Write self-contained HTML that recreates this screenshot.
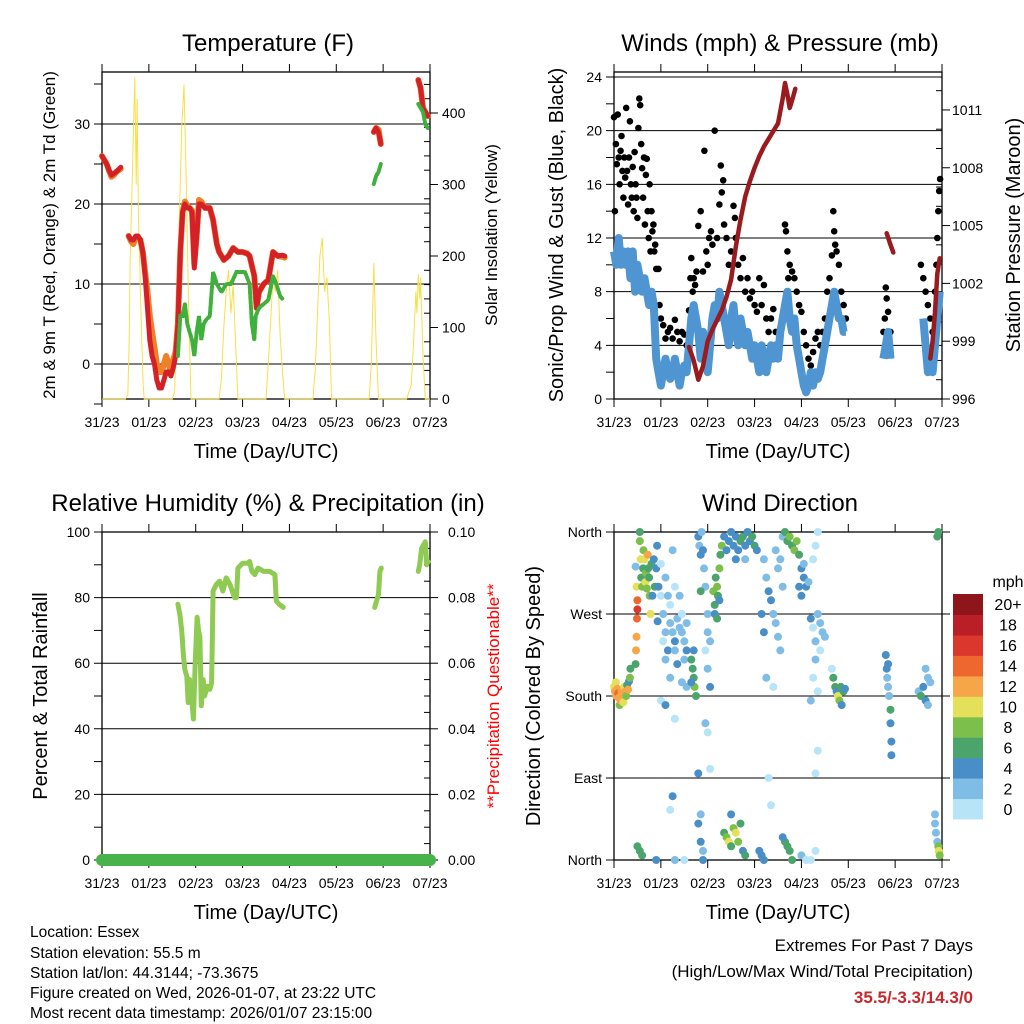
<!DOCTYPE html>
<html><head><meta charset="utf-8"><style>
html,body{margin:0;padding:0;background:#fff;}
svg{display:block;font-family:"Liberation Sans",sans-serif;}
</style></head><body>
<svg id="fig" width="1024" height="1024" viewBox="0 0 1024 1024" xmlns="http://www.w3.org/2000/svg">
<rect width="1024" height="1024" fill="#fff"/>
<g id="p1"></g>
<g id="p2"></g>
<g id="p3"></g>
<g id="p4"></g>
<g font-size="15.5" fill="#000">
<text x="30" y="937">Location: Essex</text>
<text x="30" y="958">Station elevation: 55.5 m</text>
<text x="30" y="978">Station lat/lon: 44.3144; -73.3675</text>
<text x="30" y="998">Figure created on Wed, 2026-01-07, at 23:22 UTC</text>
<text x="30" y="1018">Most recent data timestamp: 2026/01/07 23:15:00</text>
</g>
<g text-anchor="end">
<text x="973" y="951" font-size="17">Extremes For Past 7 Days</text>
<text x="973" y="977" font-size="17">(High/Low/Max Wind/Total Precipitation)</text>
<text x="973" y="1003" font-size="17" font-weight="bold" fill="#c8282d">35.5/-3.3/14.3/0</text>
</g>
</svg>
<script>
// ---------- DATA ----------
const dayLabels = ["31/23","01/23","02/23","03/23","04/23","05/23","06/23","07/23"];
// Temperature (day offsets, F); null = gap
const tempT = [0,0.05,0.1,0.15,0.2,0.25,0.3,0.35,0.4,null,0.57,0.62,0.67,0.72,0.77,0.82,0.87,0.92,0.97,1.02,1.07,1.12,1.17,1.22,1.27,1.32,1.37,1.42,1.47,1.52,1.57,1.62,1.67,1.72,1.77,1.82,1.87,1.92,1.97,2.02,2.07,2.12,2.2,2.3,2.37,2.45,2.5,2.6,2.7,2.8,2.9,3.0,3.1,3.15,3.25,3.3,3.35,3.45,3.55,3.65,3.75,3.85,3.9,null,5.8,5.85,5.9,5.95,null,6.75,6.8,6.85,6.9,6.95];
const tempRed = [26,25.5,25,24.2,23.6,23.8,24,24.3,24.6,null,16,15.5,15.5,16,16,15.5,14,11,7,3,1,0,-2,-3,-3,-2,-1,-1,-1.5,-0.5,1,5,14,19,20,19.5,19.5,19,12,16,20,20,19.5,19.5,18,15,14,13,13.5,14.5,14,14,13.8,13.5,11,7,9,10,10.5,14,13.5,13.6,13.5,null,29,29.5,29,27.5,null,35.5,34.5,32,31.5,31];
const tempOrange = [26,25.5,25,24.2,23.4,23.6,24,24.2,24.4,null,16,15.3,15,15.8,15.8,15.5,14,11.5,9,6,4,2,0,-1,-1,0,1,0,-1,0.5,1.5,5,14,19,20.3,19.8,19.5,19.2,12.5,16,20.5,20.3,19.5,19.5,18,15,14,13,13.5,14.5,14,14,13.8,13.5,11,7,9,10,10.5,14,13.5,13.4,13.3,null,29,29.5,29.3,27.5,null,35.5,34.5,32,31.5,31];
const dewT = [1.62,1.67,1.72,1.77,1.82,1.87,1.92,1.97,2.02,2.07,2.12,2.17,2.22,2.3,2.37,2.45,2.55,2.65,2.75,2.87,2.95,3.05,3.15,3.2,3.25,3.28,3.35,3.45,3.55,3.65,3.72,3.8,3.87,null,5.8,5.85,5.9,5.95,null,6.75,6.8,6.85,6.9,6.95];
const dewV = [1,6,6,7.5,5,4,3,1,4,6,3,5,5.5,6,11.5,10,9,10,10,11.5,11.5,11.5,10,5,3,6,7,7.5,8,11,10,8.5,8,null,22.5,23.5,24,25,null,32.5,32,31.5,30,29.5];
const solarT = [0,0.5,0.55,0.58,0.6,0.65,0.68,0.7,0.73,0.75,0.78,0.8,0.85,0.88,0.9,0.95,1.5,1.55,1.6,1.65,1.7,1.75,1.8,1.85,1.9,2.5,2.55,2.6,2.65,2.7,2.75,2.8,2.85,2.9,3.5,3.55,3.6,3.65,3.7,3.75,3.8,3.85,3.9,4.5,4.55,4.6,4.65,4.7,4.75,4.8,4.85,4.9,5.5,5.7,5.75,5.8,5.85,5.9,6.5,6.6,6.65,6.7,6.72,6.75,6.78,6.8,6.85,6.9,7];
const solarV = [0,0,5,80,190,320,400,450,300,420,250,200,80,20,0,0,0,10,120,250,380,440,300,120,0,0,30,100,150,180,120,160,80,0,0,50,110,170,150,180,90,40,0,0,40,120,200,225,150,170,110,0,0,0,50,190,80,0,0,20,80,150,120,175,140,170,60,0,0];
// Winds (mph)
const windT = [0,0.05,0.1,0.15,0.2,0.25,0.3,0.35,0.4,0.45,0.5,0.55,0.6,0.65,0.7,0.75,0.8,0.85,0.9,0.95,1.0,1.05,1.1,1.15,1.2,1.25,1.3,1.35,1.4,1.45,1.5,1.55,1.6,1.65,1.7,1.75,1.8,1.85,1.9,1.95,2.0,2.05,2.1,2.15,2.2,2.25,2.3,2.35,2.4,2.45,2.5,2.55,2.6,2.65,2.7,2.75,2.8,2.85,2.9,2.95,3.0,3.05,3.1,3.15,3.2,3.25,3.3,3.35,3.4,3.45,3.5,3.55,3.6,3.65,3.7,3.75,3.8,3.85,3.9,3.95,4.0,4.05,4.1,4.15,4.2,4.25,4.3,4.35,4.4,4.45,4.5,4.55,4.6,4.65,4.7,4.75,4.8,4.85,4.9,4.95,null,5.75,5.8,5.85,5.9,null,6.6,6.65,6.7,6.75,6.8,6.85,6.9,6.95];
const windV = [11,10,12,10,11,10,11,9,11,8,10,9,8,9,8,7,8,7,3,2,1,2,3,2,1.5,2,3,2,1,2,2.5,2,4,6,7,6,5,3,5,4,2,4,6,7,6,8,7,6,5,4,6,7,5,4,6,5,4,5,4,3,4,3,2,4,3,2,3,4,3,4,3,5,6,7,8,6,5,6,4,3,2,1,0.5,1,2,1,2,1.5,2,3,4,5,6,7,8,7,6,6,5,5,null,3,4,5,3,null,6,4,2,3,2,4,6,8];
const gustT = [0,0.02,0.04,0.06,0.08,0.1,0.12,0.14,0.16,0.18,0.2,0.22,0.24,0.26,0.28,0.3,0.32,0.34,0.36,0.38,0.4,0.42,0.44,0.46,0.48,0.5,0.52,0.54,0.56,0.58,0.6,0.62,0.64,0.66,0.68,0.7,0.72,0.74,0.76,0.78,0.8,0.82,0.84,0.86,0.88,0.9,0.95,0.97,1.0,1.05,1.1,1.15,1.2,1.25,1.3,1.35,1.4,1.45,1.5,1.55,1.6,1.63,1.65,1.68,1.7,1.73,1.76,1.8,1.85,1.9,1.93,1.97,2.0,2.03,2.07,2.1,2.15,2.2,2.25,2.28,2.3,2.33,2.35,2.4,2.45,2.5,2.55,2.58,2.6,2.65,2.7,2.75,2.8,2.85,2.9,2.95,3.0,3.05,3.1,3.15,3.2,3.25,3.3,3.35,3.4,3.45,3.5,3.55,3.6,3.65,3.67,3.7,3.72,3.75,3.8,3.85,3.9,3.95,4.0,4.05,4.1,4.15,4.2,4.25,4.3,4.35,4.4,4.45,4.5,4.55,4.6,4.65,4.68,4.7,4.72,4.75,4.8,4.85,4.9,4.95,5.75,5.78,5.8,5.82,5.85,5.9,6.55,6.6,6.65,6.7,6.75,6.8,6.85,6.88,6.9,6.92,6.94,6.96];
const gustV = [21,14,19,17.5,21.2,18,16,18.5,19.6,17,15,18,16.5,21.7,17,14.5,18,20.7,16,15,17.3,14,18.4,16,15,13.5,20.2,22.4,21.9,19,17.2,15,18,13,16.7,17.9,14,12,16,11,14,12.5,13,11,11.5,9.7,9.7,7,6,5.5,4.5,5,5.3,4.5,5.9,5,4.3,5,4.8,4,6.6,9,10.5,8,9,8.5,9.5,12.9,14,9.5,18.5,11,10,12,12.5,11.5,20,12,14.5,17.4,15.4,16.3,13,12,10,11,14.4,13.5,12,10,9,10.5,8,9,7.5,8,7,6.5,9,7,8.5,6,5,6,6.7,5,4,5,6,13,12.5,11,9,10,9.5,9,8,7,6.5,5,4,3,2.5,3.5,4.5,5,4,5,6,8,9,10.7,14,12.5,11.5,11,10,8,7,6,5,6,8.3,7.5,6.5,5,10,9,8,7,6,5,8,10,12,14,15.5,16.4];
const presT = [1.6,1.7,1.8,1.9,2.0,2.1,2.2,2.3,2.4,2.5,2.6,2.7,2.8,2.9,3.0,3.1,3.2,3.3,3.4,3.5,3.6,3.65,3.7,3.75,3.8,3.87,null,5.82,5.9,5.96,null,6.75,6.8,6.85,6.9,6.95];
const presV = [998.7,998,997,997.7,999,999.6,1000.1,1000.6,1001.3,1002.2,1003.9,1005.3,1006.5,1007.3,1008,1008.6,1009.1,1009.5,1009.9,1010.3,1011.6,1012.4,1011.8,1011.1,1011.5,1012.1,null,1004.6,1004,1003.6,null,998.1,999,1000.5,1002.5,1003.3];
// Relative humidity (%)
const rhT = [1.62,1.66,1.7,1.74,1.77,1.81,1.84,1.87,1.91,1.95,1.99,2.03,2.06,2.09,2.12,2.16,2.19,2.25,2.3,2.34,2.37,2.44,2.51,2.58,2.65,2.73,2.83,2.87,2.9,3.0,3.1,3.15,3.2,3.26,3.33,3.45,3.58,3.69,3.72,3.78,3.87,null,5.82,5.86,5.9,5.93,5.96,null,6.75,6.78,6.82,6.86,6.9,6.93,6.96];
const rhV = [78,75,70,62,58,56,48,55,50,43,60,74,70,68,47,55,50,53,52,54,82,84,85,82,86,84,80,80,89,90.5,90.5,91,88,87,89,88,88,87,79,78,77,null,77,79,81,88,89,null,88,90,95,96,97,90,91];
const precipT = [0,7];
const precipV = [0,0];
// Wind direction scatter
const dirT = [0,0.02,0.04,0.05,0.07,0.09,0.1,0.12,0.14,0.16,0.18,0.2,0.22,0.24,0.26,0.28,0.3,0.32,0.34,0.35,0.46,0.47,0.48,0.49,0.5,0.5,0.48,0.46,0.55,0.55,0.57,0.58,0.6,0.62,0.63,0.65,0.67,0.68,0.7,0.72,0.73,0.75,0.76,0.78,0.8,0.82,0.85,0.87,0.9,0.92,0.95,0.93,1.0,1.0,1.05,1.1,1.1,1.15,1.2,1.2,1.25,1.3,1.3,1.35,1.4,1.45,1.45,1.5,1.5,1.55,1.55,1.0,1.1,1.2,1.3,1.3,1.25,1.4,1.1,1.05,1.15,1.35,1.45,1.55,1.2,1.25,1.65,1.68,1.7,1.72,1.75,1.7,1.65,1.8,1.82,1.85,1.87,1.9,1.92,1.95,2.0,2.05,1.95,2.0,2.05,1.85,1.8,1.85,1.8,1.85,1.9,1.9,2.0,2.05,1.95,2.0,2.12,2.15,2.17,2.2,2.22,2.25,2.27,2.3,2.15,2.2,2.25,2.35,2.4,2.45,2.5,2.55,2.6,2.65,2.7,2.75,2.8,2.85,2.9,2.95,3.0,3.05,2.8,2.6,3.2,3.25,3.3,3.35,3.4,3.45,3.5,3.55,3.6,3.25,3.3,3.35,3.4,3.5,3.45,3.55,3.15,3.2,3.6,3.65,3.7,3.75,3.8,3.85,3.9,3.95,4.0,4.05,4.1,4.05,3.95,4.0,4.2,4.25,4.3,4.35,4.4,4.45,4.5,4.3,4.25,4.35,4.2,4.3,4.35,4.4,4.15,4.25,4.3,4.35,4.65,4.68,4.72,4.75,4.78,4.81,4.84,4.86,4.9,4.93,5.8,5.82,5.83,5.85,5.87,5.9,5.9,5.92,5.92,5.85,6.5,6.55,6.6,6.65,6.7,6.75,6.7,6.65,6.85,6.85,6.87,6.9,6.92,6.93,6.95,6.92,6.9,0.5,0.55,0.6,2.35,2.4,2.45,2.5,2.55,2.6,2.65,2.7,2.75,2.5,2.8,3.1,3.15,3.2,3.65,3.7,3.75,3.8,3.6,4.0,4.1,4.2,4.3,0.9,1.3,1.5];
const dirD = [190,185,195,180,188,183,178,170,175,185,180,173,190,185,180,192,187,196,200,210,215,230,245,265,275,285,300,322,350,360,330,310,300,320,340,330,305,315,298,335,320,310,290,270,325,290,330,300,320,345,300,262,325,290,270,250,220,230,260,280,250,240,230,265,255,250,270,240,220,260,230,175,170,200,155,300,340,290,310,240,290,215,195,190,55,70,220,210,200,190,180,230,195,355,345,335,360,340,320,300,250,240,230,210,190,295,95,50,40,20,10,0,140,100,150,270,295,280,310,300,290,320,335,345,270,265,285,355,340,350,360,345,355,340,350,355,345,360,350,355,345,340,330,330,330,310,295,285,270,260,245,230,300,200,90,60,190,320,340,330,270,250,355,360,350,355,345,340,350,335,320,310,300,325,300,290,265,255,240,270,260,250,245,220,200,185,175,95,120,230,305,330,345,360,210,200,190,185,180,175,190,170,185,188,225,210,200,190,180,165,150,130,115,215,185,180,190,175,200,195,170,210,50,40,30,20,15,10,5,360,355,15,10,5,30,25,20,15,35,30,20,40,10,50,5,10,5,0,20,15,10,0,25,5,0,0,10,0,0,0];
const dirS = [11,12,10,13,12,15,12,8,12,12,13,10,11,12,8,7,12,5,8,6,6,13,12,14,16,15,10,3,8,6,10,7,9,6,8,11,10,9,8,12,7,6,9,10,6,4,5,7,4,4,4,4,0,1,2,3,2,4,3,1,2,4,2,3,2,3,1,3,2,3,4,0,4,2,0,1,3,2,3,1,2,4,2,2,0,4,6,7,6,8,6,4,5,4,3,4,2,4,3,2,2,3,1,2,4,6,4,2,4,4,2,4,1,0,3,2,8,6,7,8,6,8,6,8,4,6,4,4,4,4,4,4,4,4,6,6,5,4,4,7,6,4,3,4,3,2,4,4,3,3,2,3,3,3,0,0,1,3,2,3,4,4,3,6,7,8,6,8,9,6,4,4,4,3,4,4,4,1,2,2,3,2,2,3,0,1,3,0,1,0,2,0,1,0,0,6,6,5,10,8,6,4,6,4,4,4,3,2,3,6,4,4,4,4,2,6,4,4,2,2,3,2,2,2,2,2,8,10,8,6,6,6,6,6,6,8,10,6,8,10,8,6,4,4,6,4,4,4,6,6,6,6,4,2,0,0,0,4,2,0];
const speedBins = ["0","2","4","6","8","10","12","14","16","18","20+"];
const binColors = ["#b8e4f8","#80bde6","#4a8ec7","#4ba46c","#7cc04b","#e5e05a","#f6a648","#ee672f","#dc372d","#ba1e26","#8e161a"];

// ---------- HELPERS ----------
const NS = "http://www.w3.org/2000/svg";
function mk(tag, attrs, parent){const e=document.createElementNS(NS,tag);for(const k in attrs)e.setAttribute(k,attrs[k]);if(parent)parent.appendChild(e);return e;}
function txt(parent,x,y,s,size,anchor,extra){const e=mk("text",Object.assign({x:x,y:y,"font-size":size,"text-anchor":anchor||"middle"},extra||{}),parent);e.textContent=s;return e;}
const X0=102,X1=430;
function frame(g,ox,top,bot,title,xTitle){
  const x0=X0+ox,x1=X1+ox;
  const t=txt(g,(x0+x1)/2+2,top-21,title,24);
  
  
  mk("rect",{x:x0,y:top,width:x1-x0,height:bot-top,fill:"none",stroke:"#000","stroke-width":1.3},g);
  const xs=(d)=>x0+d*(x1-x0)/7;
  for(let i=0;i<8;i++){
    const x=xs(i);
    mk("line",{x1:x,x2:x,y1:top-8,y2:top,stroke:"#000","stroke-width":1},g);
    mk("line",{x1:x,x2:x,y1:bot,y2:bot+8,stroke:"#000","stroke-width":1},g);
    const l=txt(g,x,bot+28,dayLabels[i],14);
    
    
  }
  const xt=txt(g,(x0+x1)/2,bot+59,xTitle,20);
  
  
  return xs;
}
function leftTicks(g,ox,vals,ys,labels){
  const x0=X0+ox,x1=X1+ox;
  vals.forEach((v,i)=>{const y=ys(v);
    mk("line",{x1:x0-8,x2:x1,y1:y,y2:y,stroke:"#000","stroke-width":1},g);
    const l=txt(g,x0-12,y+5,labels[i],14,"end");
    
    
  });
}
function pathFrom(T,V,xs,ys){let d="",pen=false;for(let i=0;i<T.length;i++){if(T[i]===null||V[i]===null){pen=false;continue;}d+=(pen?"L":"M")+xs(T[i]).toFixed(1)+","+ys(V[i]).toFixed(1);pen=true;}return d;}

// ---------- PANEL 1: TEMPERATURE ----------
(function(){
  const g=document.getElementById("p1"),top=72,bot=399;
  const xs=frame(g,0,top,bot,"Temperature (F)","Time (Day/UTC)");
  const ys=v=>364-v*8;
  const ys2=v=>399-v*0.7150;
  leftTicks(g,0,[0,10,20,30],ys,["0","10","20","30"]);
  for(let v=-5;v<=35;v+=5){if(v%10)mk("line",{x1:94,x2:102,y1:ys(v),y2:ys(v),stroke:"#000"},g);}
  [0,100,200,300,400].forEach(v=>{mk("line",{x1:430,x2:438,y1:ys2(v),y2:ys2(v),stroke:"#000"},g);const l=txt(g,442,ys2(v)+5,String(v),14,"start");});
  for(let v=20;v<460;v+=20){if(v%100)mk("line",{x1:424,x2:430,y1:ys2(v),y2:ys2(v),stroke:"#000"},g);}
  const s=mk("path",{d:pathFrom(solarT,solarV,xs,ys2),fill:"none",stroke:"#f7df4a","stroke-width":1},g);
  
  const o=mk("path",{d:pathFrom(tempT,tempOrange,xs,ys),fill:"none",stroke:"#f08028","stroke-width":6,"stroke-linecap":"round","stroke-linejoin":"round"},g);
  
  const r=mk("path",{d:pathFrom(tempT,tempRed,xs,ys),fill:"none",stroke:"#d42027","stroke-width":5,"stroke-linecap":"round","stroke-linejoin":"round"},g);
  
  const d=mk("path",{d:pathFrom(dewT,dewV,xs,ys),fill:"none",stroke:"#3fb03c","stroke-width":4,"stroke-dasharray":"3 2","stroke-linecap":"round"},g);
  
  const yl=txt(g,0,0,"2m & 9m T (Red, Orange) & 2m Td (Green)",17,"middle",{transform:"translate(55,235) rotate(-90)"});
  
  const yr=txt(g,0,0,"Solar Insolation (Yellow)",17,"middle",{transform:"translate(497,235) rotate(-90)"});
  
})();

// ---------- PANEL 2: WINDS & PRESSURE ----------
(function(){
  const g=document.getElementById("p2"),top=72,bot=399,ox=512;
  const xs=frame(g,ox,top,bot,"Winds (mph) & Pressure (mb)","Time (Day/UTC)");
  const ys=v=>399-v*13.417;
  const ys2=v=>399-(v-996)*19.27;
  leftTicks(g,ox,[0,4,8,12,16,20,24],ys,["0","4","8","12","16","20","24"]);
  for(let v=2;v<24;v+=4)mk("line",{x1:606,x2:614,y1:ys(v),y2:ys(v),stroke:"#000"},g);
  [996,999,1002,1005,1008,1011].forEach(v=>{mk("line",{x1:942,x2:950,y1:ys2(v),y2:ys2(v),stroke:"#000"},g);const l=txt(g,952,ys2(v)+5,String(v),14,"start");});
  for(let v=997;v<1013;v++){if((v-996)%3)mk("line",{x1:936,x2:942,y1:ys2(v),y2:ys2(v),stroke:"#000"},g);}
  const gg=mk("g",{},g);
  for(let i=0;i<gustT.length;i++){const c=mk("circle",{cx:xs(gustT[i]).toFixed(1),cy:ys(gustV[i]).toFixed(1),r:3.3,fill:"#000"},gg);}
  const w=mk("path",{d:pathFrom(windT,windV,xs,ys),fill:"none",stroke:"#4f95d2","stroke-width":8,"stroke-linejoin":"round"},g);
  
  const p=mk("path",{d:pathFrom(presT,presV,xs,ys2),fill:"none",stroke:"#9a1b1e","stroke-width":4.5,"stroke-linecap":"round","stroke-linejoin":"round"},g);
  
  const yl=txt(g,0,0,"Sonic/Prop Wind & Gust (Blue, Black)",20,"middle",{transform:"translate(563,235) rotate(-90)"});
  
  const yr=txt(g,0,0,"Station Pressure (Maroon)",20,"middle",{transform:"translate(1020,235) rotate(-90)"});
  
})();

// ---------- PANEL 3: RH & PRECIP ----------
(function(){
  const g=document.getElementById("p3"),top=532,bot=860;
  const xs=frame(g,0,top,bot,"Relative Humidity (%) & Precipitation (in)","Time (Day/UTC)");
  const ys=v=>860-v*3.28;
  leftTicks(g,0,[0,20,40,60,80,100],ys,["0","20","40","60","80","100"]);
  for(let v=10;v<100;v+=20)mk("line",{x1:94,x2:102,y1:ys(v),y2:ys(v),stroke:"#000"},g);
  ["0.00","0.02","0.04","0.06","0.08","0.10"].forEach((s,i)=>{const y=ys(i*20);mk("line",{x1:430,x2:438,y1:y,y2:y,stroke:"#000"},g);const l=txt(g,448,y+5,s,14,"start");});
  for(let v=5;v<100;v+=5){if(v%20)mk("line",{x1:424,x2:430,y1:ys(v),y2:ys(v),stroke:"#000"},g);}
  const r=mk("path",{d:pathFrom(rhT,rhV,xs,ys),fill:"none",stroke:"#8fca52","stroke-width":5,"stroke-linecap":"round","stroke-linejoin":"round"},g);
  
  const ysP=v=>860-v*3280;
  const p=mk("path",{d:pathFrom(precipT,precipV,xs,ysP),fill:"none",stroke:"#47b34a","stroke-width":12,"stroke-linecap":"round"},g);
  
  const yl=txt(g,0,0,"Percent & Total Rainfall",20,"middle",{transform:"translate(47,696) rotate(-90)"});
  
  const yr=txt(g,0,0,"**Precipitation Questionable**",17,"middle",{transform:"translate(499,696) rotate(-90)",fill:"#ff0000"});
  
})();

// ---------- PANEL 4: WIND DIRECTION ----------
(function(){
  const g=document.getElementById("p4"),top=532,bot=860,ox=512;
  const xs=frame(g,ox,top,bot,"Wind Direction","Time (Day/UTC)");
  const ys=d=>860-d*328/360;
  leftTicks(g,ox,[0,90,180,270,360],ys,["North","East","South","West","North"]);
  [0,90,180,270,360].forEach(v=>mk("line",{x1:942,x2:950,y1:ys(v),y2:ys(v),stroke:"#000"},g));
  const pg=mk("g",{},g);
  for(let i=0;i<dirT.length;i++){
    const b=Math.min(10,Math.floor(dirS[i]/2));
    const c=mk("circle",{cx:xs(dirT[i]).toFixed(1),cy:ys(dirD[i]).toFixed(1),r:4,fill:binColors[b]},pg);
    
  }
  const yl=txt(g,0,0,"Direction (Colored By Speed)",20,"middle",{transform:"translate(540,696) rotate(-90)"});
  
  const cb=mk("g",{},g);
  const cbTop=594,cbH=225/11;
  for(let i=0;i<11;i++){
    const y=cbTop+(10-i)*cbH;
    const r=mk("rect",{x:953,y:y.toFixed(1),width:30,height:(cbH+0.5).toFixed(1),fill:binColors[i]},cb);
    
    const l=txt(cb,1008,y+cbH/2+6,speedBins[i],16,"middle");
    
  }
  const u=txt(cb,1008,587,"mph",16,"middle");
  
})();
</script>
</body></html>
